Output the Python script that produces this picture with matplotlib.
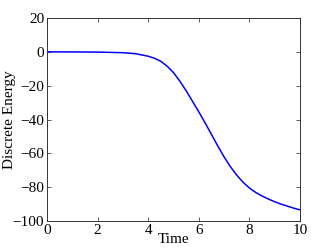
import matplotlib
matplotlib.use("Agg")
import matplotlib.pyplot as plt

# values
time = [0, 1, 2, 3, 3.5, 4, 4.25, 4.5, 4.75, 5, 5.25, 5.5, 5.75, 6, 6.25,
        6.5, 6.75, 7, 7.25, 7.5, 7.75, 8, 8.25, 8.5, 8.75, 9, 9.25, 9.5,
        9.75, 10]
energy = [0, -0.05, -0.15, -0.5, -1.1, -2.6, -3.8, -5.6, -8.5, -12.3, -17.3,
          -23.0, -29.2, -35.5, -42, -48.8, -55.6, -62.1, -67.9, -72.9, -77.1,
          -80.5, -83.1, -85.2, -87.0, -88.6, -90.0, -91.2, -92.4, -93.4]
xticks = [0, 2, 4, 6, 8, 10]
yticks = [-100, -80, -60, -40, -20, 0, 20]

plt.rcParams['font.family'] = ['Liberation Serif', 'DejaVu Serif']
plt.rcParams['font.size'] = 11

fig = plt.figure(figsize=(3.32, 2.49), dpi=100)
ax = fig.add_axes([0.1416, 0.1124, 0.762, 0.8153])
ax.plot(time, energy, color=(0, 0, 1), linewidth=1.1)
ax.set_xlim(0, 10)
ax.set_ylim(-100, 20)
ax.set_xticks(xticks)
ax.set_yticks(yticks)
ax.tick_params(direction='in', top=True, right=True, length=3,
               width=0.6, color='#444444', pad=2)
for s in ax.spines.values():
    s.set_linewidth(0.7)
    s.set_color('#333333')
ax.set_xlabel('Time', labelpad=-2.5)
ax.set_ylabel('Discrete Energy', labelpad=-2)

fig.savefig('out.png', dpi=100)
